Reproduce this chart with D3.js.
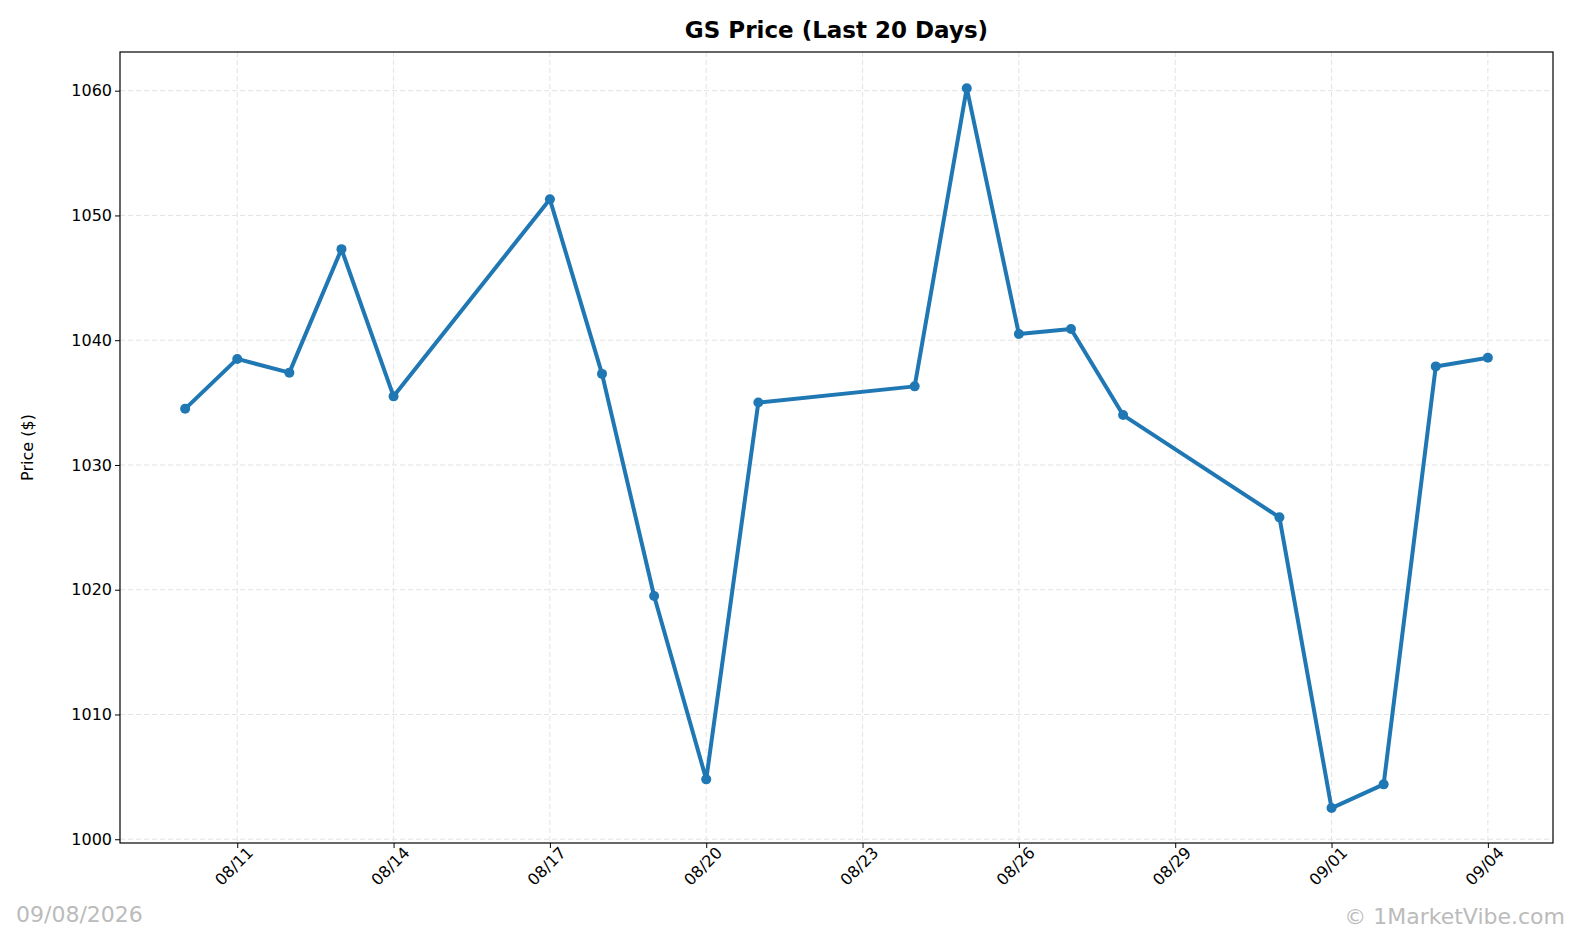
<!DOCTYPE html>
<html><head><meta charset="utf-8">
<script src="https://cdn.jsdelivr.net/npm/d3@7"></script>
<style>html,body{margin:0;background:#fff;font-family:"DejaVu Sans",sans-serif;overflow:hidden}svg{display:block}</style>
</head><body><div id="chart"></div>
<script>
const dates = ["2026-08-10","2026-08-11","2026-08-12","2026-08-13","2026-08-14","2026-08-17","2026-08-18","2026-08-19","2026-08-20","2026-08-21",
  "2026-08-24","2026-08-25","2026-08-26","2026-08-27","2026-08-28","2026-08-31","2026-09-01","2026-09-02","2026-09-03","2026-09-04"];
const prices = [1034.5,1038.5,1037.4,1047.3,1035.5,1051.3,1037.3,1019.5,1004.8,1035.0,
  1036.3,1060.2,1040.5,1040.9,1034.0,1025.8,1002.5,1004.4,1037.9,1038.6];
const yTicks = [1000,1010,1020,1030,1040,1050,1060];
const xTickDates = ["2026-08-11","2026-08-14","2026-08-17","2026-08-20","2026-08-23","2026-08-26","2026-08-29","2026-09-01","2026-09-04"];

const W = 1581, H = 942;
const margin = {top: 52, right: 28, bottom: 99, left: 120};
const parse = d3.timeParse("%Y-%m-%d");
const data = dates.map((d,i) => ({date: parse(d), v: prices[i]}));
const day = 864e5;

const svg = d3.select("#chart").append("svg").attr("width", W).attr("height", H);

const x = d3.scaleTime()
  .domain([new Date(data[0].date - 1.25*day), new Date(+data[data.length-1].date + 1.25*day)])
  .range([margin.left, W - margin.right]);
const y = d3.scaleLinear().domain([999.7, 1063.1]).range([H - margin.bottom, margin.top]);

const xt = xTickDates.map(parse);

// grid
svg.append("g").selectAll("line").data(yTicks).join("line")
  .attr("x1", margin.left).attr("x2", W - margin.right)
  .attr("y1", d => y(d)).attr("y2", d => y(d))
  .attr("stroke", "#e3e3e3").attr("stroke-dasharray", "5,3");
svg.append("g").selectAll("line").data(xt).join("line")
  .attr("y1", margin.top).attr("y2", H - margin.bottom)
  .attr("x1", d => x(d)).attr("x2", d => x(d))
  .attr("stroke", "#e3e3e3").attr("stroke-dasharray", "5,3");

// axes
const xAxis = svg.append("g").attr("transform", `translate(0,${H - margin.bottom})`)
  .call(d3.axisBottom(x).tickValues(xt).tickFormat(d3.timeFormat("%m/%d")).tickSizeOuter(0).tickSize(5));
xAxis.selectAll("text").style("font-size", "16px").style("font-family", "DejaVu Sans").attr("fill", "#000")
  .attr("text-anchor", "end").attr("x", 4).attr("y", 8).attr("dy", "0.71em")
  .attr("transform", "rotate(-45)");
const yAxis = svg.append("g").attr("transform", `translate(${margin.left},0)`)
  .call(d3.axisLeft(y).tickValues(yTicks).tickFormat(d3.format("d")).tickSizeOuter(0).tickSize(5));
yAxis.selectAll("text").style("font-size", "16px").style("font-family", "DejaVu Sans").attr("fill", "#000");
svg.selectAll(".domain").remove();

svg.append("rect").attr("x", margin.left).attr("y", margin.top)
  .attr("width", W - margin.right - margin.left).attr("height", H - margin.bottom - margin.top)
  .attr("fill", "none").attr("stroke", "#000").attr("stroke-width", 1.2);

// line
svg.append("path").datum(data)
  .attr("fill", "none").attr("stroke", "#1f77b4").attr("stroke-width", 4).attr("stroke-linejoin", "round")
  .attr("d", d3.line().x(d => x(d.date)).y(d => y(d.v)));
svg.append("g").selectAll("circle").data(data).join("circle")
  .attr("cx", d => x(d.date)).attr("cy", d => y(d.v)).attr("r", 5).attr("fill", "#1f77b4");

// labels
svg.append("text").attr("x", (margin.left + W - margin.right)/2).attr("y", 38)
  .attr("text-anchor", "middle").style("font-size", "23px").attr("font-weight", "bold").text("GS Price (Last 20 Days)");
svg.append("text").attr("transform", `translate(33,${(margin.top + H - margin.bottom)/2}) rotate(-90)`)
  .attr("text-anchor", "middle").style("font-size", "16px").text("Price ($)");
svg.append("text").attr("x", 16).attr("y", 922).style("font-size", "22px").attr("fill", "#bbb").text("09/08/2026");
svg.append("text").attr("x", W - 16).attr("y", 924).attr("text-anchor", "end").style("font-size", "22px").attr("fill", "#bbb").text("© 1MarketVibe.com");
</script></body></html>
